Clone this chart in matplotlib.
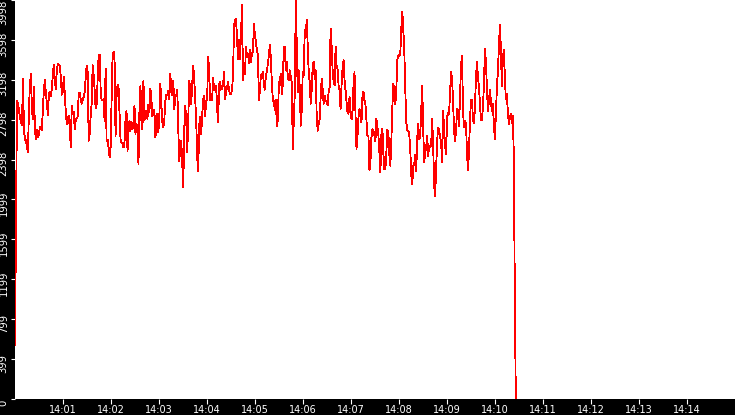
import numpy as np
import pandas as pd
import matplotlib
matplotlib.use('Agg')
import matplotlib.pyplot as plt
import matplotlib.transforms as mtransforms

# values, in time order (14:00:00 -> 14:10:26)
load_start = [545, 1780]
load_1 = [2990, 2960, 2900, 2820, 2780, 2740, 3210, 2700, 2600, 2590,
          2530, 2470, 2900, 3150, 3260, 2900, 2800, 3130, 2700, 2600,
          2700, 2620, 2650, 2730, 2720, 2690, 2907, 3092, 3200, 3060,
          2970, 2840, 3050, 3080, 3030, 3110, 3250, 3350, 3200, 3100,
          3300, 3360, 3350, 3340, 3230, 3050, 3080, 3230, 3060, 2880,
          2750, 2806, 2840, 2720, 2520, 2940, 2850, 2880, 2700, 2800,
          2810, 2830, 3060, 3070, 3000, 2960, 2991, 3025, 3080, 3220,
          3340, 3276, 2588, 2655, 2840, 2958, 3343, 3243, 3092, 2910,
          2950, 3200, 3450, 3450]
load_2 = [3108, 2991, 2991, 3008, 2780, 3310, 2580, 2600, 2521, 2420,
          2521, 2991, 3444, 3480, 3394, 2638, 3030, 3150, 3125, 2850,
          2600, 2571, 2560, 2521, 2571, 2800, 2890, 2487, 2672, 2790,
          2689, 2773, 2700, 2773, 2941, 2655, 2756, 2680, 2353, 2890,
          3142, 2780, 2700, 3192, 2790, 2840, 2890, 2806, 2950, 2873,
          3108, 3000, 2830, 2873, 2900, 2620, 2700, 2857, 2672, 2840,
          3160, 2950, 2773, 2722, 2800, 2990, 3050, 3041, 3092, 3000,
          3259, 3075, 3041, 3192, 2900, 3025, 3041, 3100, 2700, 2387,
          2521, 2588, 2353, 2118]
load_3 = [2706, 2941, 2790, 2471, 2790, 3192, 3092, 2958, 3159, 3343,
          3200, 3008, 2790, 2420, 2286, 2740, 2823, 2655, 2840, 3000,
          3041, 2830, 2991, 3000, 3427, 3300, 2991, 3060, 2991, 3220,
          3092, 3140, 3142, 2920, 2773, 3150, 3175, 3100, 3108, 3150,
          3276, 3000, 3075, 3130, 3175, 3090, 3058, 3060, 3092, 3250,
          3746, 3800, 3813, 3600, 3410, 3600, 3410, 3650, 3948, 3200,
          3310, 3260, 3528, 3440, 3461, 3370, 3494, 3380, 3461, 3480,
          3763, 3640, 3578, 3490, 3444, 2990, 3092, 3250, 3243, 3280,
          3142, 3100, 3243, 3280]
load_4 = [3360, 3444, 3545, 3410, 3158, 2990, 2991, 2890, 3000, 2739,
          2790, 3159, 3192, 3259, 3058, 3159, 3530, 3528, 3293, 3377,
          3226, 3192, 3293, 3226, 3175, 2504, 2773, 3058, 3998, 3545,
          3075, 3293, 3125, 2739, 2890, 3276, 3243, 3696, 3620, 3803,
          3530, 3276, 3175, 2958, 3092, 3343, 3377, 3209, 3293, 2840,
          2689, 2756, 2806, 3025, 3209, 3108, 2958, 3041, 2991, 2974,
          2941, 3075, 3125, 3713, 3540, 3293, 3175, 3142, 3528, 3343,
          3300, 3142, 3092, 2907, 3150, 3310, 3394, 3192, 3092, 2974,
          2873, 2857, 3025, 2890]
load_5 = [2800, 2873, 3150, 3276, 2850, 2504, 2630, 2823, 2907, 2840,
          2770, 3041, 3080, 2991, 2950, 2790, 2630, 2638, 2290, 2370,
          2620, 2706, 2640, 2672, 2580, 2806, 2720, 2638, 2470, 2270,
          2650, 2706, 2460, 2303, 2300, 2471, 2700, 2672, 2450, 2336,
          2590, 2924, 3160, 3092, 2950, 3108, 3400, 3444, 3440, 3461,
          3710, 3880, 3700, 3494, 3100, 2773, 2690, 2689, 2650, 2504,
          2240, 2152, 2330, 2353, 2450, 2286, 2620, 2756, 2600, 2638,
          2900, 3142, 2700, 2370, 2470, 2521, 2640, 2437, 2540, 2521,
          2550, 2806, 2540, 2135]
load_6 = [2035, 2300, 2588, 2720, 2689, 2630, 2571, 2370, 2890, 2700,
          2538, 2454, 2823, 2870, 2857, 3080, 3276, 3200, 2991, 2680,
          2588, 2680, 2907, 2900, 2739, 3050, 3343, 3440, 2890, 2720,
          2790, 2760, 2454, 2290, 2487, 2800, 2991, 3000, 2790, 2760,
          2924, 3230, 3377, 3220, 3125, 2950, 2790, 2800, 2924, 3150,
          3511, 3380, 3108, 2880, 2991, 3100, 2991, 2880, 2958, 2740,
          2605, 2850, 3125, 3280, 3528, 3750, 3511, 3130, 3410, 3500,
          3226, 3000, 3058, 2880, 2756, 2815, 2857, 2760, 2840, 2437]
load_end = [1050, 0]

t_start = '2024-01-01 14:00:00'
t_last = '2024-01-01 14:10:26'
t_view_end = '2024-01-01 14:15:00'

ytick_labels = ['0', '399', '799', '1199', '1599', '1999', '2398', '2798',
                '3198', '3598', '3998']
xtick_labels = ['14:01', '14:02', '14:03', '14:04', '14:05', '14:06', '14:07',
                '14:08', '14:09', '14:10', '14:11', '14:12', '14:13', '14:14']
y_max = 3998

load = load_start + load_1 + load_2 + load_3 + load_4 + load_5 + load_6 + load_end
times = pd.date_range(t_start, t_last, periods=len(load))

fig = plt.figure(figsize=(7.35, 4.15), dpi=100, facecolor='black')
ax = fig.add_axes([15 / 735, 16 / 415, 720 / 735, 399 / 415])
ax.set_facecolor('white')

ax.plot(times, load, color='#ff0000', lw=0.6, antialiased=False)

ax.set_xlim(pd.Timestamp(t_start), pd.Timestamp(t_view_end))
ax.set_ylim(0, y_max)
for s in ax.spines.values():
    s.set_visible(False)

# ticks
yt = np.linspace(0, y_max, len(ytick_labels))
ax.set_yticks(yt, ytick_labels)
xt = pd.date_range('2024-01-01 14:01:00', periods=len(xtick_labels), freq='min')
ax.set_xticks(xt, xtick_labels)

ax.tick_params(axis='both', colors='white', labelcolor='white',
               direction='out', width=0.8)
ax.tick_params(axis='y', length=3, pad=1.5, labelsize=7.2)
ax.tick_params(axis='x', length=3.6, pad=1.0, labelsize=7)

# labels sit a bit below their tick, the top one is kept inside the figure
shift = mtransforms.ScaledTranslation(0, -0.04, fig.dpi_scale_trans)
top_shift = mtransforms.ScaledTranslation(0, -0.125, fig.dpi_scale_trans)
ylabs = ax.get_yticklabels()
for i, lab in enumerate(ylabs):
    lab.set_rotation(90)
    lab.set_verticalalignment('center')
    if i == len(ylabs) - 1:
        lab.set_transform(lab.get_transform() + top_shift)
    else:
        lab.set_transform(lab.get_transform() + shift)

fig.savefig('out.png', dpi=100, facecolor='black')
